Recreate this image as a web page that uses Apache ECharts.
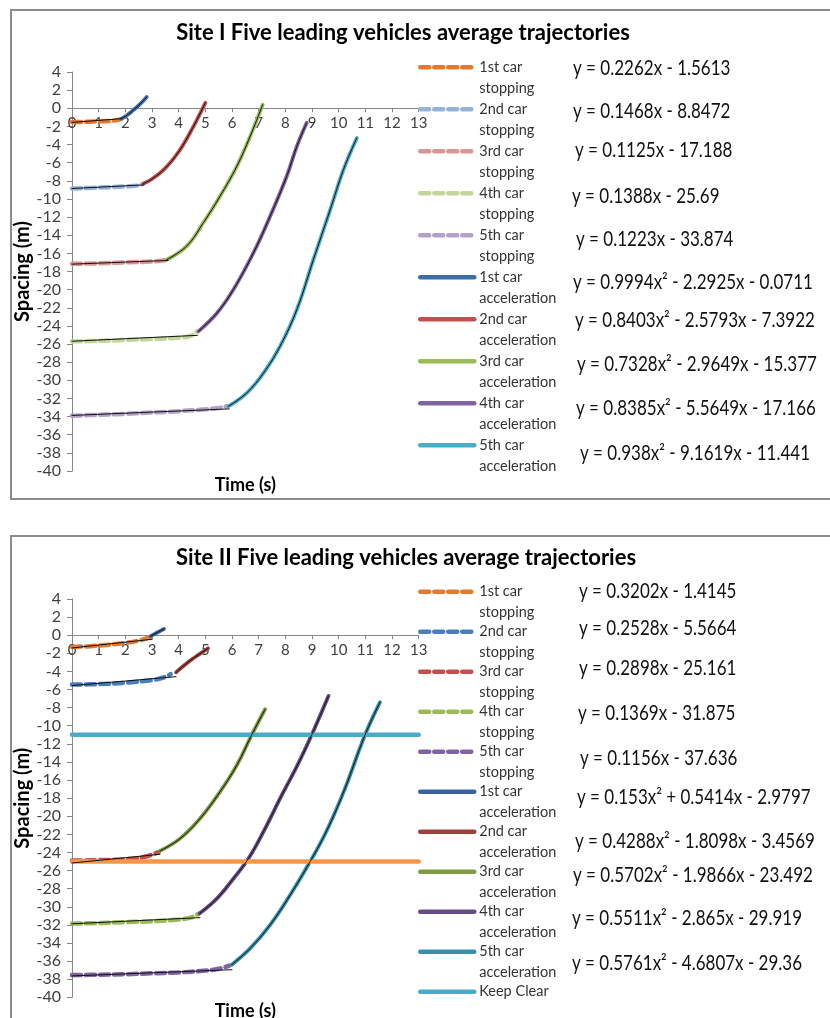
<!DOCTYPE html>
<html><head><meta charset="utf-8">
<script src="https://cdn.jsdelivr.net/npm/echarts@6/dist/echarts.min.js"></script>
<style>
html,body{margin:0;padding:0;background:#fff;overflow:hidden;}
#c1{position:absolute;left:0;top:0;width:830px;height:520px;}
#c2{position:absolute;left:0;top:520px;width:830px;height:580px;}
</style>
</head><body><div id="c1"></div><div id="c2"></div>
<script>
// ---------------- DATA ----------------
const titles = ['Site I Five leading vehicles average trajectories', 'Site II Five leading vehicles average trajectories'];
const seriesNames = ['1st car stopping','2nd car stopping','3rd car stopping','4th car stopping','5th car stopping',
  '1st car acceleration','2nd car acceleration','3rd car acceleration','4th car acceleration','5th car acceleration'];
const keepClearName = 'Keep Clear';
const xAxisName = 'Time (s)';
const yAxisName = 'Spacing (m)';

// Site I – stopping (dashed) and acceleration (solid) trajectories [time s, spacing m]
const s1Stop1 = [[0,-1.5],[0.5,-1.5],[1,-1.45],[1.5,-1.38],[1.8,-1.22]];
const s1Stop2 = [[0,-8.85],[1,-8.75],[2,-8.62],[2.4,-8.55],[2.65,-8.35]];
const s1Stop3 = [[0,-17.15],[1,-17.1],[2,-17.0],[3,-16.9],[3.55,-16.75]];
const s1Stop4 = [[0,-25.7],[1,-25.65],[2,-25.55],[3,-25.45],[4,-25.3],[4.45,-25.1],[4.7,-24.6]];
const s1Stop5 = [[0,-33.9],[1,-33.8],[2,-33.7],[3,-33.55],[4,-33.4],[5,-33.2],[5.5,-33.05],[5.8,-32.85]];
const s1Acc1 = [[1.85,-1.15],[2.05,-0.8],[2.3,-0.2],[2.55,0.45],[2.8,1.25]];
const s1Acc2 = [[2.68,-8.3],[3.0,-7.8],[3.5,-6.6],[4.0,-4.8],[4.5,-2.3],[5.0,0.6]];
const s1Acc3 = [[3.55,-16.7],[4.3,-15.2],[4.93,-12.6],[5.55,-9.7],[6.18,-6.4],[6.68,-3.1],[7.15,0.4]];
const s1Acc4 = [[4.74,-24.6],[5.43,-22.6],[6.05,-20.0],[6.8,-15.96],[7.43,-11.9],[8.05,-7.5],[8.43,-4.2],[8.8,-1.6]];
const s1Acc5 = [[5.86,-32.87],[6.55,-31.4],[7.18,-29.2],[7.8,-26.25],[8.43,-22.2],[9.05,-16.7],[9.68,-11.2],[10.18,-6.76],[10.68,-3.27]];
// Site I – linear trendlines of stopping parts (end points)
const s1Trend1 = [[0,-1.56],[1.85,-1.15]];
const s1Trend2 = [[0,-8.85],[2.7,-8.45]];
const s1Trend3 = [[0,-17.19],[3.6,-16.78]];
const s1Trend4 = [[0,-25.69],[4.7,-25.04]];
const s1Trend5 = [[0,-33.87],[5.9,-33.15]];
const s1Equations = ['y = 0.2262x - 1.5613','y = 0.1468x - 8.8472','y = 0.1125x - 17.188','y = 0.1388x - 25.69','y = 0.1223x - 33.874',
  'y = 0.9994x² - 2.2925x - 0.0711','y = 0.8403x² - 2.5793x - 7.3922','y = 0.7328x² - 2.9649x - 15.377','y = 0.8385x² - 5.5649x - 17.166','y = 0.938x² - 9.1619x - 11.441'];

// Site II
const s2Stop1 = [[0,-1.3],[1,-1.15],[2,-0.85],[2.5,-0.6],[2.95,-0.2]];
const s2Stop2 = [[0,-5.45],[1,-5.4],[2,-5.25],[3,-4.95],[3.4,-4.7],[3.7,-4.3]];
const s2Stop3 = [[0,-24.9],[1,-24.85],[2,-24.75],[2.7,-24.5],[3.25,-23.95]];
const s2Stop4 = [[0,-31.85],[1,-31.8],[2,-31.7],[3,-31.6],[4,-31.4],[4.45,-31.2],[4.75,-30.75]];
const s2Stop5 = [[0,-37.55],[1,-37.5],[2,-37.45],[3,-37.35],[4,-37.25],[5,-37.05],[5.5,-36.85],[5.9,-36.5]];
const s2Acc1 = [[2.95,-0.1],[3.2,0.3],[3.45,0.7]];
const s2Acc2 = [[3.9,-4.1],[4.2,-3.35],[4.5,-2.65],[4.8,-2.05],[5.1,-1.45]];
const s2Acc3 = [[3.3,-23.83],[4.05,-22.47],[4.8,-20.26],[5.55,-17.3],[6.18,-14.36],[6.74,-11.0],[7.24,-8.18]];
const s2Acc4 = [[4.78,-30.75],[5.43,-29.1],[6.05,-26.9],[6.61,-24.7],[7.18,-21.7],[7.8,-18.05],[8.43,-14.5],[8.99,-11.0],[9.62,-6.7]];
const s2Acc5 = [[5.99,-36.4],[6.68,-34.6],[7.43,-32.0],[8.18,-28.7],[8.93,-25.0],[9.55,-21.6],[10.2,-17.2],[10.99,-11.0],[11.55,-7.4]];
const s2Trend1 = [[0,-1.41],[3.0,-0.45]];
const s2Trend2 = [[0,-5.57],[3.9,-4.58]];
const s2Trend3 = [[0,-25.16],[3.3,-24.2]];
const s2Trend4 = [[0,-31.88],[4.8,-31.2]];
const s2Trend5 = [[0,-37.64],[6.0,-36.95]];
const s2KeepClear = [[0,-11],[13,-11]];
const s2StopLine = [[0,-25],[13,-25]];
const s2Equations = ['y = 0.3202x - 1.4145','y = 0.2528x - 5.5664','y = 0.2898x - 25.161','y = 0.1369x - 31.875','y = 0.1156x - 37.636',
  'y = 0.153x² + 0.5414x - 2.9797','y = 0.4288x² - 1.8098x - 3.4569','y = 0.5702x² - 1.9866x - 23.492','y = 0.5511x² - 2.865x - 29.919','y = 0.5761x² - 4.6807x - 29.36'];

// ---------------- LAYOUT / STYLE ----------------
const FONT = 'Lato, Carlito, "Liberation Sans", sans-serif';
const Y_MIN = -40, Y_MAX = 4;
const site1 = {
  el: 'c1', title: titles[0], titleX: 403, titleTop: 22,
  stops: [s1Stop1,s1Stop2,s1Stop3,s1Stop4,s1Stop5],
  accs: [s1Acc1,s1Acc2,s1Acc3,s1Acc4,s1Acc5],
  trends: [s1Trend1,s1Trend2,s1Trend3,s1Trend4,s1Trend5],
  stopColors: ['#E3792E','#95B3D7','#D99694','#C3D69B','#B3A2C7'],
  accColors: ['#3C6DA9','#C0504D','#9BBB59','#8064A2','#4BACC6'],
  equations: s1Equations,
  eqPos: [[573,68],[573,111],[575,150],[572,196],[576,239],[573,282],[575,320],[577,364],[576,408],[580,453]],
  border: [11,10,830,489],
  grid: {left:72, top:72, width:346.7, height:399},
  legendTop: 35.8, itemGap: -21,
  extras: []
};
const site2 = {
  el: 'c2', title: titles[1], titleX: 406, titleTop: 27,
  stops: [s2Stop1,s2Stop2,s2Stop3,s2Stop4,s2Stop5],
  accs: [s2Acc1,s2Acc2,s2Acc3,s2Acc4,s2Acc5],
  trends: [s2Trend1,s2Trend2,s2Trend3,s2Trend4,s2Trend5],
  stopColors: ['#E07B30','#4A7EBB','#C0504D','#9BBB59','#8064A2'],
  accColors: ['#3A62A0','#A0403D','#7E9C42','#664E84','#3790A8'],
  equations: s2Equations,
  eqPos: [[579,71],[579,108],[579,148],[578,193],[580,238],[577,277],[575,321],[573,355],[572,398],[572,443]],
  border: [11,16,830,560],
  grid: {left:72, top:79, width:346.7, height:398.3},
  legendTop: 40.2, itemGap: -23,
  extras: [
    {name: keepClearName, data: s2KeepClear, color: '#4BACC6', legend: true},
    {name: 'stop line', data: s2StopLine, color: '#F79646', legend: false}
  ]
};

function lineSeries(name, data, color, type, width, z, smooth) {
  return {
    type: 'line', name: name, data: data, xAxisIndex: 0, yAxisIndex: 0,
    symbol: 'none', smooth: smooth, z: z, silent: true, animation: false,
    itemStyle: {color: color},
    lineStyle: {color: color, width: width, type: type, cap: 'round'}
  };
}

function legendFormatter(name) {
  const m = name.match(/^(.*) (stopping|acceleration)$/);
  if (m) return '\n' + m[1] + '\n' + m[2];
  return '\n' + name + '\n';
}

function build(site) {
  const series = [];
  site.stops.forEach((d, i) => series.push(lineSeries(seriesNames[i], d, site.stopColors[i], [9,5], 4.5, 2, 0.4)));
  site.accs.forEach((d, i) => series.push(lineSeries(seriesNames[5 + i], d, site.accColors[i], 'solid', 3.8, 2, 0.4)));
  const legendNames = seriesNames.slice();
  site.extras.forEach(e => {
    series.push(lineSeries(e.name, e.data, e.color, 'solid', 4.5, 3, false));
    if (e.legend) legendNames.push(e.name);
  });
  site.trends.forEach(d => series.push(lineSeries('trend', d, '#111', 'solid', 1, 5, false)));
  site.accs.forEach(d => series.push(lineSeries('trend fit', d, '#111', 'solid', 1, 5, 0.4)));

  const graphics = [{
    type: 'rect', silent: true, z: 0,
    shape: {x: site.border[0], y: site.border[1], width: site.border[2], height: site.border[3]},
    style: {fill: 'none', stroke: '#8c8c8c', lineWidth: 2}
  }];
  site.equations.forEach((t, i) => graphics.push({
    type: 'text', silent: true, x: site.eqPos[i][0], y: site.eqPos[i][1], scaleY: 1.2,
    style: {text: t, fontFamily: FONT, fontSize: 17, fill: '#111', verticalAlign: 'middle', align: 'left'}
  }));

  const axisColor = '#868686';
  // zero line position inside the grid (the x axis crosses the y axis at 0)
  const zeroOffset = -site.grid.height * (0 - Y_MIN) / (Y_MAX - Y_MIN);
  return {
    backgroundColor: '#fff',
    animation: false,
    title: {
      text: site.title, left: site.titleX, top: site.titleTop, textAlign: 'center', padding: 0,
      textStyle: {fontFamily: FONT, fontWeight: 'bold', fontSize: 22, color: '#000'}
    },
    legend: {
      data: legendNames, orient: 'vertical', left: 418, top: site.legendTop, padding: 0,
      itemWidth: 54, itemHeight: 14, itemGap: site.itemGap, selectedMode: false,
      itemStyle: {opacity: 0},
      lineStyle: {width: 4.5, cap: 'round'},
      formatter: legendFormatter,
      textStyle: {fontFamily: FONT, fontSize: 14.5, color: '#333', lineHeight: 21}
    },
    grid: site.grid,
    xAxis: [{
      type: 'value', min: 0, max: 13, interval: 1, position: 'bottom', offset: zeroOffset,
      axisLine: {show: true, onZero: false, lineStyle: {color: axisColor, width: 1}},
      axisTick: {show: true, length: 4, lineStyle: {color: axisColor}},
      axisLabel: {fontFamily: FONT, fontSize: 15, color: '#404040', margin: 7},
      splitLine: {show: false}
    }, {
      type: 'value', min: 0, max: 13, position: 'bottom',
      axisLine: {show: false, onZero: false}, axisTick: {show: false}, axisLabel: {show: false},
      splitLine: {show: false},
      name: xAxisName, nameLocation: 'middle', nameGap: 5,
      nameTextStyle: {fontFamily: FONT, fontWeight: 'bold', fontSize: 18, color: '#000', verticalAlign: 'top'}
    }],
    yAxis: [{
      type: 'value', min: Y_MIN, max: Y_MAX, interval: 2,
      axisLine: {show: true, lineStyle: {color: axisColor, width: 1}},
      axisTick: {show: true, length: 5, lineStyle: {color: axisColor}},
      axisLabel: {fontFamily: FONT, fontSize: 16, color: '#404040', margin: 11},
      splitLine: {show: false},
      name: yAxisName, nameLocation: 'middle', nameGap: 25,
      nameTextStyle: {fontFamily: FONT, fontWeight: 'bold', fontSize: 20, color: '#000'}
    }],
    graphic: graphics,
    series: series
  };
}

[site1, site2].forEach(site => {
  const chart = echarts.init(document.getElementById(site.el), null, {renderer: 'canvas'});
  chart.setOption(build(site));
});
</script></body></html>
